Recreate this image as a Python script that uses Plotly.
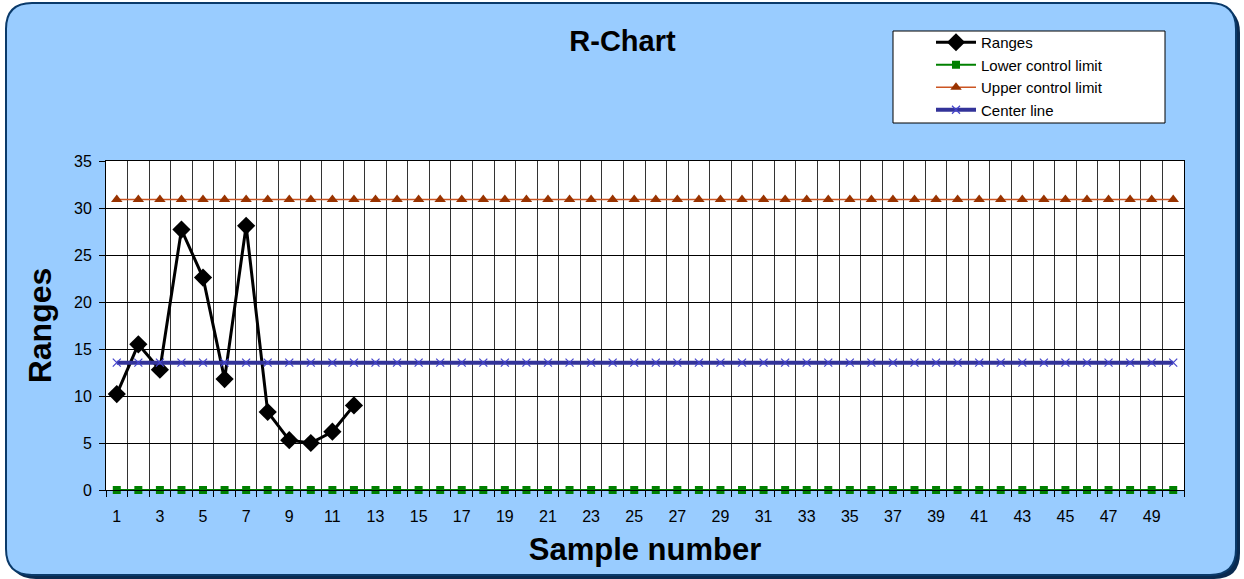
import plotly.graph_objects as go

samples = list(range(1, 51))
ranges_x = list(range(1, 13))
ranges_y = [10.2, 15.5, 12.8, 27.7, 22.6, 11.8, 28.1, 8.3, 5.3, 5.0, 6.2, 9.0]
lcl_value = 0.0
ucl_value = 30.9
cl_value = 13.55
tick_labels = [str(i) for i in range(1, 51, 2)]

W, H = 1244, 579
L, R, T, B = 106, 60, 161, 89
pw, ph = W - L - R, H - T - B

def px(x):
    return (x - L) / pw

def py(y):
    return (H - B - y) / ph

def rrect(x0, y0, x1, y1, r):
    return (f"M {px(x0+r)},{py(y0)} L {px(x1-r)},{py(y0)} "
            f"Q {px(x1)},{py(y0)} {px(x1)},{py(y0+r)} L {px(x1)},{py(y1-r)} "
            f"Q {px(x1)},{py(y1)} {px(x1-r)},{py(y1)} L {px(x0+r)},{py(y1)} "
            f"Q {px(x0)},{py(y1)} {px(x0)},{py(y1-r)} L {px(x0)},{py(y0+r)} "
            f"Q {px(x0)},{py(y0)} {px(x0+r)},{py(y0)} Z")

fig = go.Figure()
fig.add_trace(go.Scatter(x=ranges_x, y=ranges_y, name="Ranges", mode="lines+markers",
                         line=dict(color="black", width=3), cliponaxis=False,
                         marker=dict(symbol="diamond", size=14, color="black")))
fig.add_trace(go.Scatter(x=samples, y=[lcl_value]*50, name="Lower control limit", mode="lines+markers",
                         line=dict(color="#008000", width=2), cliponaxis=False,
                         marker=dict(symbol="square", size=8, color="#008000")))
fig.add_trace(go.Scatter(x=samples, y=[ucl_value]*50, name="Upper control limit", mode="lines+markers",
                         line=dict(color="#CC5522", width=1.5), cliponaxis=False,
                         marker=dict(symbol="triangle-up", size=10, color="#993300")))
fig.add_trace(go.Scatter(x=samples, y=[cl_value]*50, name="Center line", mode="lines+markers",
                         line=dict(color="#333399", width=4), cliponaxis=False,
                         marker=dict(symbol="x-thin", size=8, line=dict(color="#4444CC", width=1.2), color="#4444CC")))

shapes = [
    dict(type="path", xref="paper", yref="paper", path=rrect(10, 7, 1240, 579, 26),
         fillcolor="#0A2A50", line=dict(width=0), layer="below"),
    dict(type="path", xref="paper", yref="paper", path=rrect(6, 3, 1236, 575, 26),
         fillcolor="#99CCFF", line=dict(color="#0A3A6A", width=2), layer="below"),
    dict(type="rect", xref="paper", yref="paper", x0=0, y0=0, x1=1, y1=1,
         fillcolor="white", line=dict(width=0), layer="below"),
    dict(type="rect", xref="paper", yref="paper", x0=px(893), y0=py(31), x1=px(1165), y1=py(123),
         fillcolor="white", line=dict(color="black", width=1), layer="below"),
]

fig.update_layout(
    width=W, height=H,
    margin=dict(l=L, r=R, t=T, b=B),
    paper_bgcolor="white",
    plot_bgcolor="rgba(0,0,0,0)",
    font=dict(family="Liberation Sans, Arial, sans-serif", color="black"),
    title=dict(text="<b>R-Chart</b>", xref="container", x=622.5/W, xanchor="center",
               y=1 - 41/H, yanchor="middle", font=dict(size=29)),
    shapes=shapes,
    showlegend=True,
    legend=dict(x=px(931), y=py(26), xanchor="left", yanchor="top",
                bgcolor="rgba(0,0,0,0)", borderwidth=0,
                font=dict(size=15), tracegroupgap=0, itemwidth=40),
    xaxis=dict(range=[0.5, 50.5], tickmode="array", tickvals=list(range(1, 51, 2)),
               ticktext=tick_labels, ticks="", showgrid=False, zeroline=False,
               tickfont=dict(size=16), ticklabelstandoff=12,
               showline=True, linecolor="black", linewidth=1, mirror=True,
               minor=dict(tickmode="linear", tick0=0.5, dtick=1, ticks="outside", ticklen=6,
                          tickcolor="black", showgrid=True, gridcolor="#333333", gridwidth=1),
               title=dict(text="<b>Sample number</b>", font=dict(size=31), standoff=14)),
    yaxis=dict(range=[0, 35], dtick=5, ticks="outside", ticklen=6, tickcolor="black",
               showgrid=True, gridcolor="black", gridwidth=1, zeroline=False,
               showline=True, linecolor="black", linewidth=1, mirror=True,
               tickfont=dict(size=16), ticklabelstandoff=4,
               title=dict(text="<b>Ranges</b>", font=dict(size=32), standoff=12)),
)

fig.write_html("out.html")
